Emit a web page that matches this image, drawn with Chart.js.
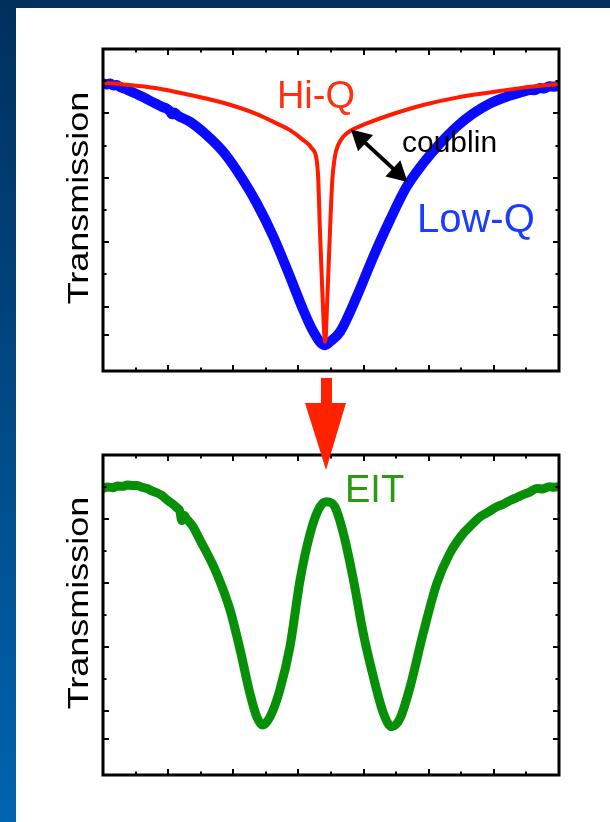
<!DOCTYPE html>
<html>
<head>
<meta charset="utf-8">
<script src="https://cdn.jsdelivr.net/npm/chart.js@4.4.1/dist/chart.umd.min.js"></script>
<style>
html,body{margin:0;padding:0;background:#fff;}
body{width:610px;height:822px;position:relative;overflow:hidden;font-family:"Liberation Sans",Arial,sans-serif;}
#topbar{position:absolute;left:0;top:0;width:610px;height:8px;background:#00305c;}
#leftbar{position:absolute;left:0;top:0;width:16px;height:822px;background:linear-gradient(#00305c,#0064ae);}
#c1{position:absolute;left:0;top:0;}
#c2{position:absolute;left:0;top:376px;}
</style>
</head>
<body>
<div id="topbar"></div>
<div id="leftbar"></div>
<canvas id="c1" width="610" height="376"></canvas>
<canvas id="c2" width="610" height="446"></canvas>
<script>
// ---------- data (arbitrary detuning units / transmission units) ----------
const xTicks = [0,1,2,3,4,5,6,7,8,9,10,11,12,13,14];
const xMajorTicks = [2,4,6,8,10,12];
const yTicks = [9,8,7,6,5,4,3,2,1.12];
const yMajorTicks = [8,6,4,2,1.12];

const lowQx = [0.00,0.12,0.22,0.32,0.42,0.52,0.62,0.75,0.88,1.00,1.14,1.30,1.45,1.65,1.80,1.95,2.06,2.12,2.18,2.30,2.67,3.18,3.69,4.10,4.72,5.23,5.74,6.15,6.46,6.80,6.97,7.28,7.79,8.30,8.81,9.32,9.83,10.35,10.86,11.37,11.88,12.39,12.90,13.10,13.25,13.42,13.55,13.70,13.85,14.00];
const lowQy = [8.93,8.90,8.93,8.87,8.88,8.82,8.78,8.73,8.67,8.62,8.55,8.47,8.39,8.29,8.21,8.15,8.06,7.97,8.03,7.93,7.74,7.33,6.81,6.24,5.21,4.17,2.93,1.89,1.22,0.80,0.91,1.22,2.31,3.55,4.69,5.72,6.45,7.07,7.59,8.00,8.31,8.52,8.67,8.73,8.72,8.79,8.77,8.84,8.83,8.87];

const hiQx = [0.00,0.62,1.65,2.67,3.69,4.72,5.33,5.74,6.15,6.41,6.56,6.61,6.66,6.74,6.82,6.89,6.97,7.04,7.12,7.22,7.38,7.63,8.10,8.81,9.83,10.86,11.88,12.90,14.05];
const hiQy = [8.95,8.90,8.78,8.57,8.33,7.98,7.69,7.48,7.17,6.92,6.55,5.93,4.38,2.31,0.91,2.31,4.38,5.93,6.66,7.02,7.28,7.48,7.69,7.95,8.26,8.49,8.65,8.80,8.92];

const eitX = [0.00,0.15,0.30,0.45,0.60,0.75,0.90,1.05,1.20,1.35,1.50,1.65,1.80,1.96,2.10,2.26,2.36,2.42,2.48,2.57,2.75,2.98,3.49,3.90,4.21,4.51,4.72,4.90,5.13,5.43,5.74,6.05,6.36,6.66,6.87,7.12,7.38,7.69,7.99,8.30,8.61,8.86,9.12,9.43,9.83,10.25,10.65,11.06,11.30,11.58,11.80,12.09,12.30,12.50,12.70,12.90,13.10,13.32,13.50,13.70,13.85,14.00];
const eitY = [8.96,9.00,8.98,9.03,9.02,9.06,9.05,9.05,8.99,8.95,8.88,8.82,8.74,8.60,8.50,8.36,8.24,7.95,8.12,8.00,7.78,7.34,6.30,5.16,3.91,2.55,1.82,1.56,1.82,2.66,4.01,6.09,7.55,8.38,8.54,8.38,7.55,6.09,4.43,3.07,1.93,1.51,1.77,2.76,4.43,5.99,6.93,7.55,7.80,8.07,8.20,8.38,8.47,8.58,8.67,8.76,8.84,8.95,8.94,9.01,8.99,9.02];

const yTitle = "Transmission";
const topLabels = [
  {text:"Hi-Q", x:5.34, y:8.17, color:"#ff3010", size:38},
  {text:"coublin", x:9.18, y:6.80, color:"#000000", size:30},
  {text:"Low-Q", x:9.64, y:4.32, color:"#1a3cff", size:40}
];
const bottomLabels = [
  {text:"EIT", x:7.43, y:8.53, color:"#2a9a10", size:38}
];
// coupling double arrow (data units of the top chart)
const couplingArrow = {x1:7.61, y1:7.50, x2:9.35, y2:5.87};

// ---------- helpers ----------
const FONT = '"Liberation Sans", Arial, sans-serif';
function pts(xs, ys){ return xs.map((x,i)=>({x:x, y:ys[i]})); }

function setTicks(arr, majors){
  return function(scale){ scale.ticks = arr.map(v=>({value:v, major: majors.includes(v)})); };
}

const framePlugin = {
  id:'frame',
  afterDatasetsDraw(chart){
    const ctx = chart.ctx, a = chart.chartArea, xs = chart.scales.x, ys = chart.scales.y;
    ctx.save();
    ctx.strokeStyle = '#000';
    ctx.lineWidth = 2;
    ctx.beginPath();
    xs.ticks.forEach(t=>{
      const p = Math.round(xs.getPixelForValue(t.value));
      if (p <= a.left+2 || p >= a.right-2) return;
      const len = t.major ? 6 : 3.5;
      ctx.moveTo(p, a.bottom); ctx.lineTo(p, a.bottom-len);
      ctx.moveTo(p, a.top); ctx.lineTo(p, a.top+len);
    });
    ys.ticks.forEach(t=>{
      const p = Math.round(ys.getPixelForValue(t.value));
      if (p <= a.top+2 || p >= a.bottom-2) return;
      const len = t.major ? 6 : 3.5;
      ctx.moveTo(a.left, p); ctx.lineTo(a.left+len, p);
      ctx.moveTo(a.right, p); ctx.lineTo(a.right-len, p);
    });
    ctx.stroke();
    ctx.lineWidth = 3;
    ctx.strokeRect(a.left, a.top, a.right-a.left, a.bottom-a.top);
    ctx.restore();
  },
  afterDraw(chart){
    const o = chart.options.plugins.frame || {};
    const ctx = chart.ctx, a = chart.chartArea, xs = chart.scales.x, ys = chart.scales.y;
    ctx.save();
    // rotated, slightly stretched y-axis title
    ctx.translate(88, (a.top+a.bottom)/2 - 12);
    ctx.rotate(-Math.PI/2);
    ctx.scale(1.2, 1);
    ctx.font = '30px ' + FONT;
    ctx.fillStyle = '#000';
    ctx.textAlign = 'center';
    ctx.textBaseline = 'alphabetic';
    ctx.fillText(yTitle, 0, 0);
    ctx.restore();
    // annotation texts
    (o.labels || []).forEach(l=>{
      ctx.save();
      ctx.font = l.size + 'px ' + FONT;
      ctx.fillStyle = l.color;
      ctx.textAlign = 'left';
      ctx.textBaseline = 'alphabetic';
      ctx.fillText(l.text, xs.getPixelForValue(l.x), ys.getPixelForValue(l.y));
      ctx.restore();
    });
    if (o.doubleArrow) {
      const d = o.doubleArrow;
      const x1 = xs.getPixelForValue(d.x1), y1 = ys.getPixelForValue(d.y1);
      const x2 = xs.getPixelForValue(d.x2), y2 = ys.getPixelForValue(d.y2);
      const ang = Math.atan2(y2-y1, x2-x1);
      const hl = 20, hw = 11;
      ctx.save();
      ctx.strokeStyle = '#000'; ctx.fillStyle = '#000'; ctx.lineWidth = 4;
      ctx.beginPath();
      ctx.moveTo(x1 + Math.cos(ang)*hl*0.8, y1 + Math.sin(ang)*hl*0.8);
      ctx.lineTo(x2 - Math.cos(ang)*hl*0.8, y2 - Math.sin(ang)*hl*0.8);
      ctx.stroke();
      function head(tx, ty, dir){
        const bx = tx + Math.cos(dir)*hl, by = ty + Math.sin(dir)*hl;
        ctx.beginPath();
        ctx.moveTo(tx, ty);
        ctx.lineTo(bx + Math.cos(dir+Math.PI/2)*hw, by + Math.sin(dir+Math.PI/2)*hw);
        ctx.lineTo(bx - Math.cos(dir+Math.PI/2)*hw, by - Math.sin(dir+Math.PI/2)*hw);
        ctx.closePath(); ctx.fill();
      }
      head(x1, y1, ang);
      head(x2, y2, ang+Math.PI);
      ctx.restore();
    }
    if (o.downArrow) {
      // red arrow linking the two panels (canvas pixels)
      ctx.save();
      ctx.fillStyle = '#ff2200';
      ctx.fillRect(321, 2, 11, 26);
      ctx.beginPath();
      ctx.moveTo(305, 27); ctx.lineTo(346, 27); ctx.lineTo(326, 94); ctx.closePath();
      ctx.fill();
      ctx.restore();
    }
  }
};

function makeChart(id, datasets, pad, extra){
  return new Chart(document.getElementById(id), {
    type: 'line',
    data: { datasets: datasets },
    options: {
      responsive: false,
      animation: false,
      events: [],
      layout: { padding: pad },
      elements: { point: { radius: 0 }, line: { cubicInterpolationMode: 'monotone', borderCapStyle: 'butt', borderJoinStyle: 'round' } },
      scales: {
        x: { type: 'linear', display: false, min: 0, max: 14, afterBuildTicks: setTicks(xTicks, xMajorTicks) },
        y: { type: 'linear', display: false, min: 0, max: 10, afterBuildTicks: setTicks(yTicks, yMajorTicks) }
      },
      plugins: { legend: { display: false }, tooltip: { enabled: false }, frame: extra }
    },
    plugins: [framePlugin]
  });
}

makeChart('c1', [
  { label: 'Hi-Q', data: pts(hiQx, hiQy), borderColor: '#ff1a00', borderWidth: 4, fill: false },
  { label: 'Low-Q', data: pts(lowQx, lowQy), borderColor: '#0a0aff', borderWidth: 10, fill: false }
], {left: 103, right: 51, top: 49, bottom: 5}, { labels: topLabels, doubleArrow: couplingArrow });

makeChart('c2', [
  { label: 'EIT', data: pts(eitX, eitY), borderColor: '#079007', borderWidth: 9, fill: false }
], {left: 103, right: 51, top: 79, bottom: 47}, { labels: bottomLabels, downArrow: true });
</script>
</body>
</html>
